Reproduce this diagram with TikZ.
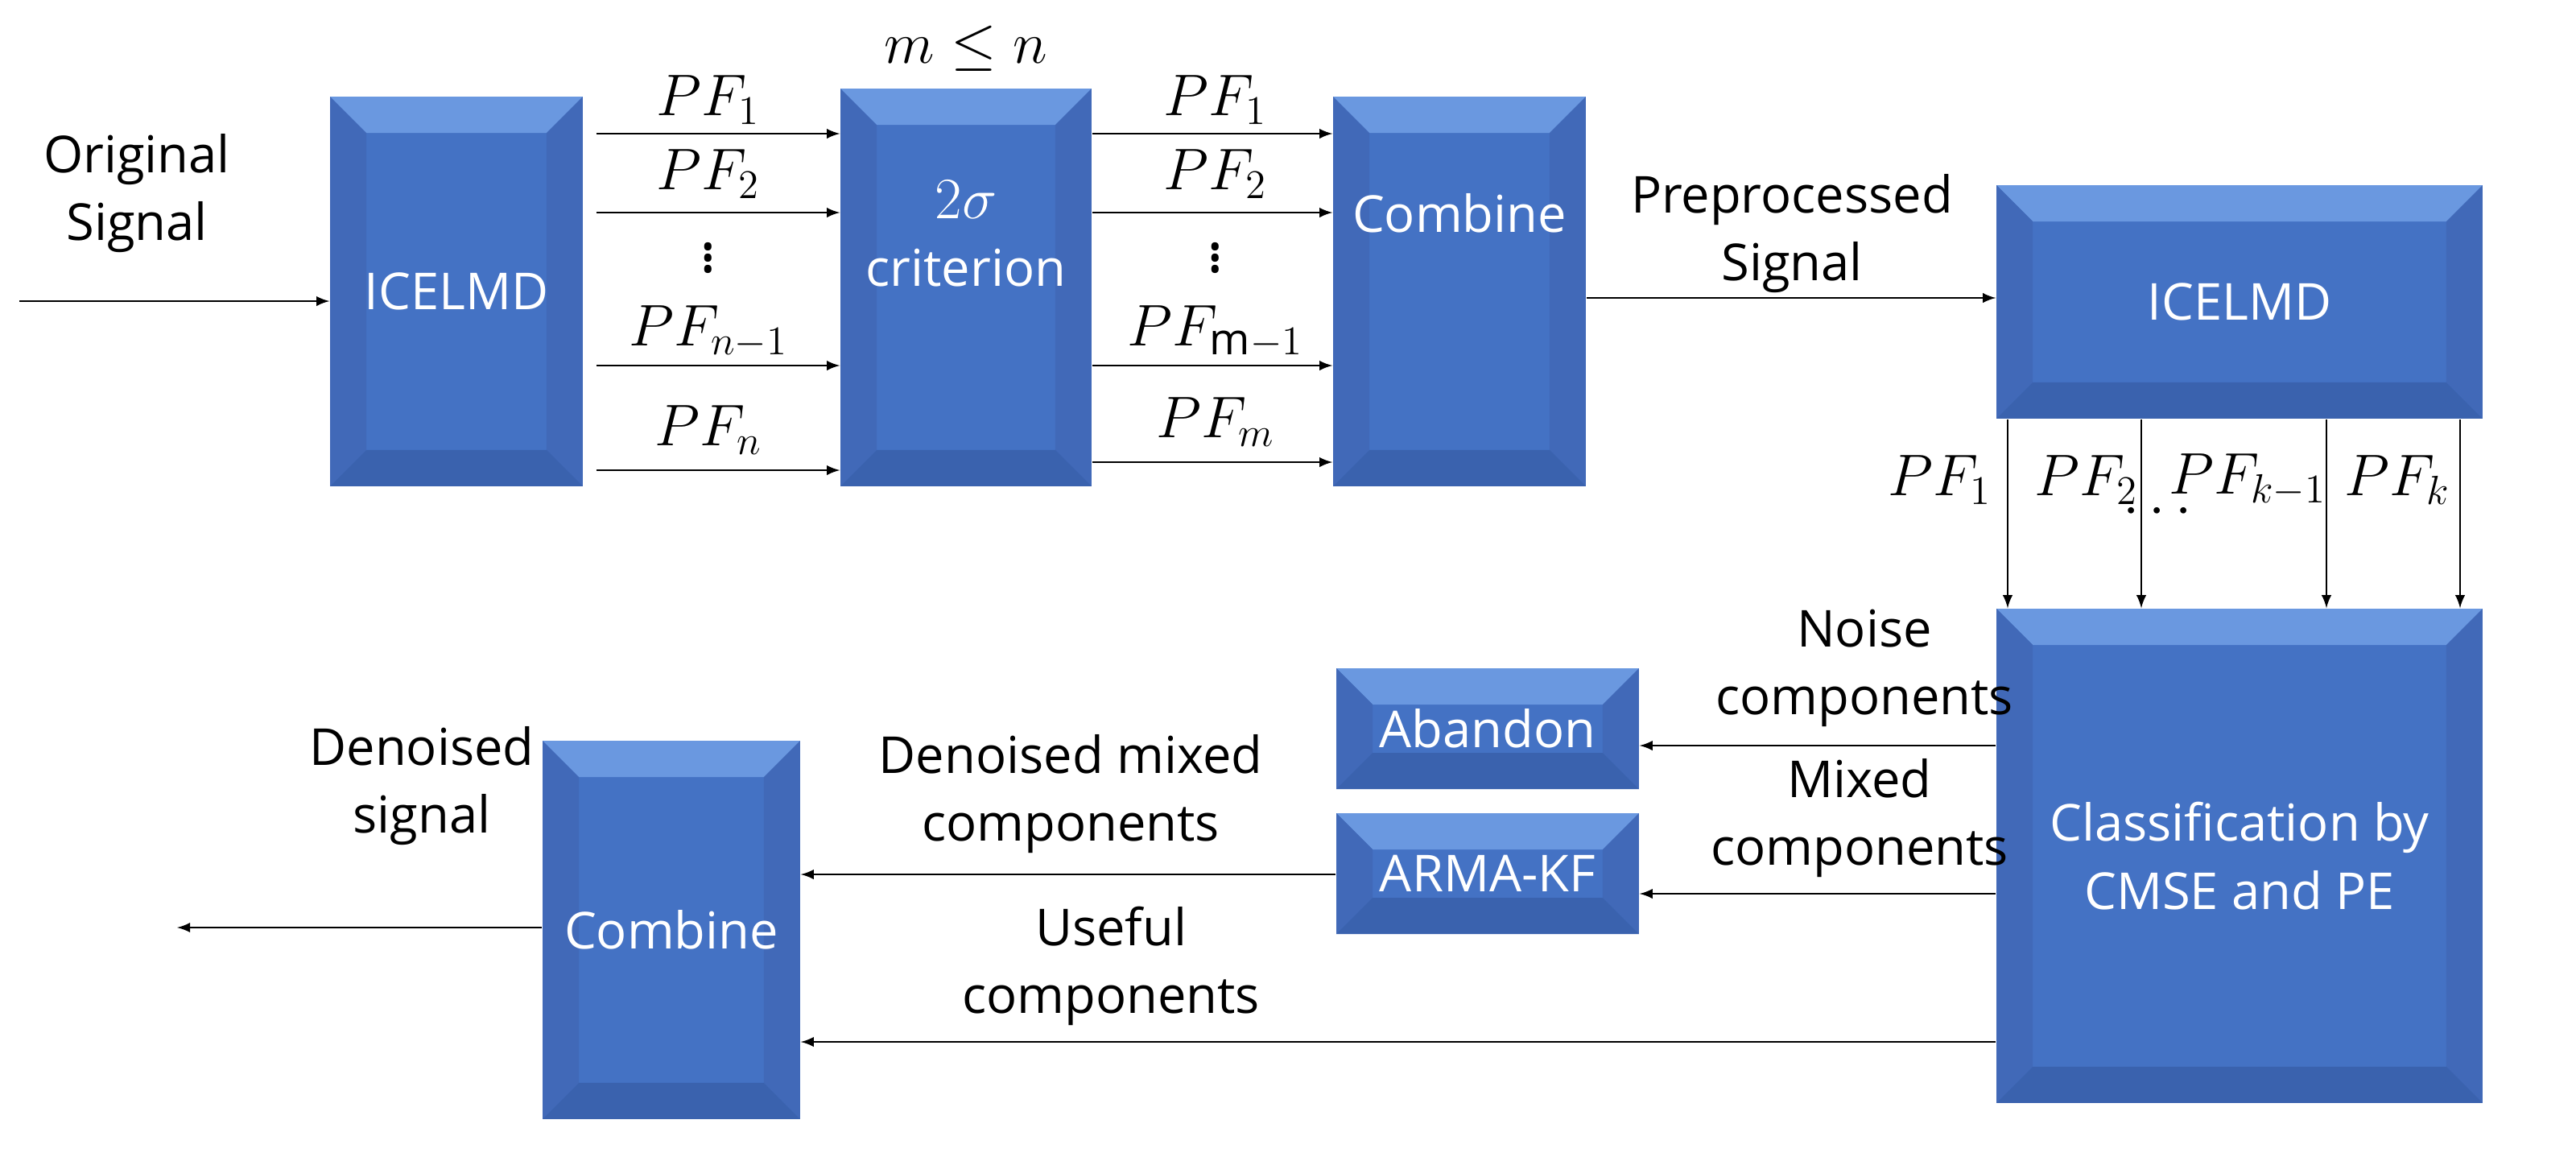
\documentclass[tikz,border=0pt]{standalone}
\usepackage{fontspec}
\setmainfont{Open Sans}
\usepackage{amsmath}
\begin{document}
\begin{tikzpicture}[x=0.02cm,y=-0.02cm,
  box/.style={draw=none,fill=boxc,text=white,inner sep=0pt,align=center,font=\fontsize{18}{24}\selectfont,
    path picture={
      \fill[boxtop] (path picture bounding box.north west) -- (path picture bounding box.north east)
        -- ([shift={(-0.45cm,-0.45cm)}]path picture bounding box.north east) -- ([shift={(0.45cm,-0.45cm)}]path picture bounding box.north west) -- cycle;
      \fill[boxside] (path picture bounding box.north east) -- (path picture bounding box.south east)
        -- ([shift={(-0.45cm,0.45cm)}]path picture bounding box.south east) -- ([shift={(-0.45cm,-0.45cm)}]path picture bounding box.north east) -- cycle;
      \fill[boxside] (path picture bounding box.north west) -- (path picture bounding box.south west)
        -- ([shift={(0.45cm,0.45cm)}]path picture bounding box.south west) -- ([shift={(0.45cm,-0.45cm)}]path picture bounding box.north west) -- cycle;
      \fill[boxbot] (path picture bounding box.south west) -- (path picture bounding box.south east)
        -- ([shift={(-0.45cm,0.45cm)}]path picture bounding box.south east) -- ([shift={(0.45cm,0.45cm)}]path picture bounding box.south west) -- cycle;
    }},
  lab/.style={align=center,font=\fontsize{18}{24}\selectfont},
  pf/.style={inner sep=1pt,font=\fontsize{22}{24}\selectfont},
  pfs/.style={inner sep=0pt,font=\fontsize{20}{24}\selectfont},
  arr/.style={-latex,line width=0.6pt}]
\definecolor{boxc}{HTML}{4472C4}
\definecolor{boxtop}{HTML}{6A98E0}
\definecolor{boxside}{HTML}{4169B8}
\definecolor{boxbot}{HTML}{3A62AE}
\useasboundingbox (0,0) rectangle (1600,718);
% boxes
\node[box,minimum width=3.14cm,minimum height=4.84cm] (b1) at (283.5,181) {ICELMD};
\node[box,minimum width=3.12cm,minimum height=4.94cm] (b2) at (600,178.5) {{\fontsize{21}{24}\selectfont$2\sigma$}\\criterion\\[0.5cm]};
\node[box,minimum width=3.14cm,minimum height=4.84cm] (b3) at (906.5,181) {Combine\\[1.1cm]};
\node[box,minimum width=6.04cm,minimum height=2.9cm] (b4) at (1391,187.5) {ICELMD};
\node[box,minimum width=6.04cm,minimum height=6.14cm] (b5) at (1391,531.5) {Classification by\\CMSE and PE};
\node[box,minimum width=3.76cm,minimum height=1.5cm] (b6) at (924,452.5) {Abandon};
\node[box,minimum width=3.76cm,minimum height=1.5cm] (b7) at (924,542.5) {ARMA-KF};
\node[box,minimum width=3.2cm,minimum height=4.7cm] (b8) at (417,577.5) {Combine};
% input
\coordinate (in) at (12,187);
\draw[arr] (in) -- (b1.west |- 0,187);
\node[lab] (t0) at (85,120) {Original\\Signal};
% b1 -> b2
\foreach \y in {83,132,227,292}{\draw[arr] (b1.east |- 0,\y) ++(8,0) -- (b2.west |- 0,\y);}
\node[pf] (p1) at (440,62) {$PF_1$};
\node[pf] (p2) at (440,108) {$PF_2$};
\node[pf] (p3) at (440,155) {$\vdots$};
\node[pf] (p4) at (440,206) {$PF_{n-1}$};
\node[pf] (p5) at (440,267) {$PF_n$};
\node[pf] (mn) at (600,30) {$m\le n$};
% b2 -> b3
\foreach \y in {83,132,227,287}{\draw[arr] (b2.east |- 0,\y) -- (b3.west |- 0,\y);}
\node[pf] (q1) at (755,62) {$PF_1$};
\node[pf] (q2) at (755,108) {$PF_2$};
\node[pf] (q3) at (755,155) {$\vdots$};
\node[pf] (q4) at (755,206) {$PF_{\mathrm{m}-1}$};
\node[pf] (q5) at (755,262) {$PF_m$};
% b3 -> b4
\draw[arr] (b3.east |- 0,185) -- (b4.west |- 0,185);
\node[lab] (t1) at (1113,145) {Preprocessed\\Signal};
% b4 -> b5
\foreach \x in {1247,1330,1445,1528}{\draw[arr] (b4.south -| \x,0) -- (b5.north -| \x,0);}
\node[pfs] (r1) at (1205,298) {$PF_1$};
\node[pfs] (r2) at (1296,298) {$PF_2$};
\node[pfs] (r3) at (1343,318) {$\cdots$};
\node[pfs] (r4) at (1396,298) {$PF_{k-1}$};
\node[pfs] (r5) at (1489,298) {$PF_k$};
% b5 -> b6, b7, b8
\draw[arr] (b5.west |- 0,463) -- (b6.east |- 0,463);
\node[lab] (t2) at (1158,415) {Noise\\components};
\draw[arr] (b5.west |- 0,555) -- (b7.east |- 0,555);
\node[lab] (t3) at (1155,508) {Mixed\\components};
\draw[arr] (b7.west |- 0,543) -- (b8.east |- 0,543);
\node[lab] (t4) at (665,493) {Denoised mixed\\components};
\draw[arr] (b5.west |- 0,647) -- (b8.east |- 0,647);
\node[lab] (t5) at (690,600) {Useful\\components};
\coordinate (out) at (110,576);
\draw[arr] (b8.west |- 0,576) -- (out);
\node[lab] (t6) at (262,488) {Denoised\\signal};
\end{tikzpicture}
\end{document}
